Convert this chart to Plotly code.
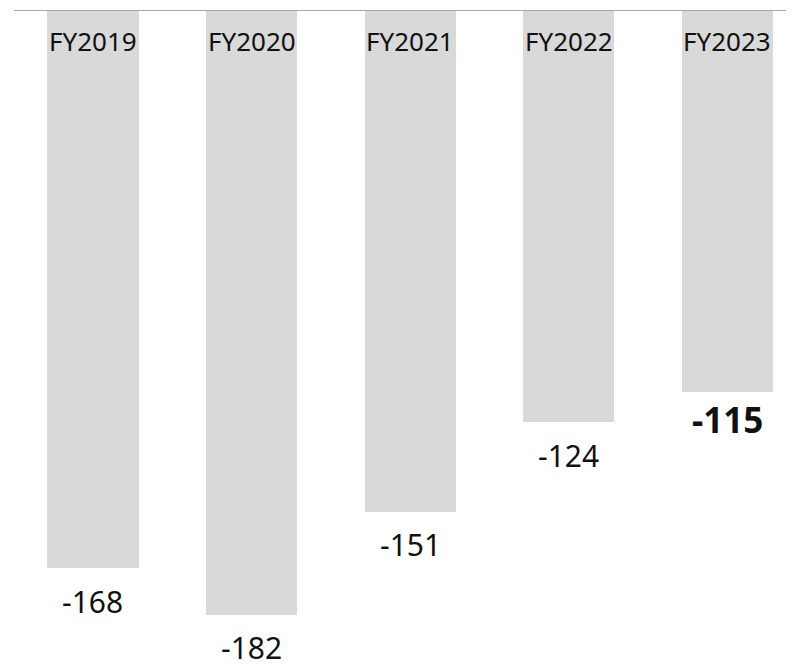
import plotly.graph_objects as go

categories = ["FY2019", "FY2020", "FY2021", "FY2022", "FY2023"]
values = [-168, -182, -151, -124, -115]
value_labels = ["-168", "-182", "-151", "-124", "-115"]

FONT = "Noto Sans, Open Sans, sans-serif"

fig = go.Figure()
fig.add_trace(go.Bar(
    x=categories,
    y=values,
    marker=dict(color="#d9d9d9", line=dict(width=0)),
    width=0.574,
    hoverinfo="skip",
))

annotations = []
last = len(categories) - 1
for i, (c, v, t) in enumerate(zip(categories, values, value_labels)):
    annotations.append(dict(
        x=c, y=0, xref="x", yref="y", text=c, showarrow=False,
        yanchor="middle", yshift=-31,
        font=dict(family=FONT, size=26, color="#111111"),
    ))
    bold = i == last
    annotations.append(dict(
        x=c, y=v, xref="x", yref="y",
        text=f"<b>{t}</b>" if bold else t, showarrow=False,
        yanchor="middle", yshift=-27 if bold else -33,
        font=dict(family=FONT, size=35 if bold else 30, color="#111111"),
    ))

fig.update_layout(
    width=794, height=664,
    margin=dict(l=6, r=0, t=2, b=0),
    paper_bgcolor="white", plot_bgcolor="white",
    showlegend=False,
    bargap=0,
    xaxis=dict(range=[-0.498, 4.470], showgrid=False, zeroline=False,
               showticklabels=False, showline=False, fixedrange=True),
    yaxis=dict(range=[-199.2, 0], showgrid=False, zeroline=False,
               showticklabels=False, showline=False, fixedrange=True),
    annotations=annotations,
    shapes=[dict(type="line", xref="paper", yref="y", x0=0, x1=1, y0=0, y1=0,
                 line=dict(color="#a6a6a6", width=2), layer="above")],
)

fig.write_html("out.html")
